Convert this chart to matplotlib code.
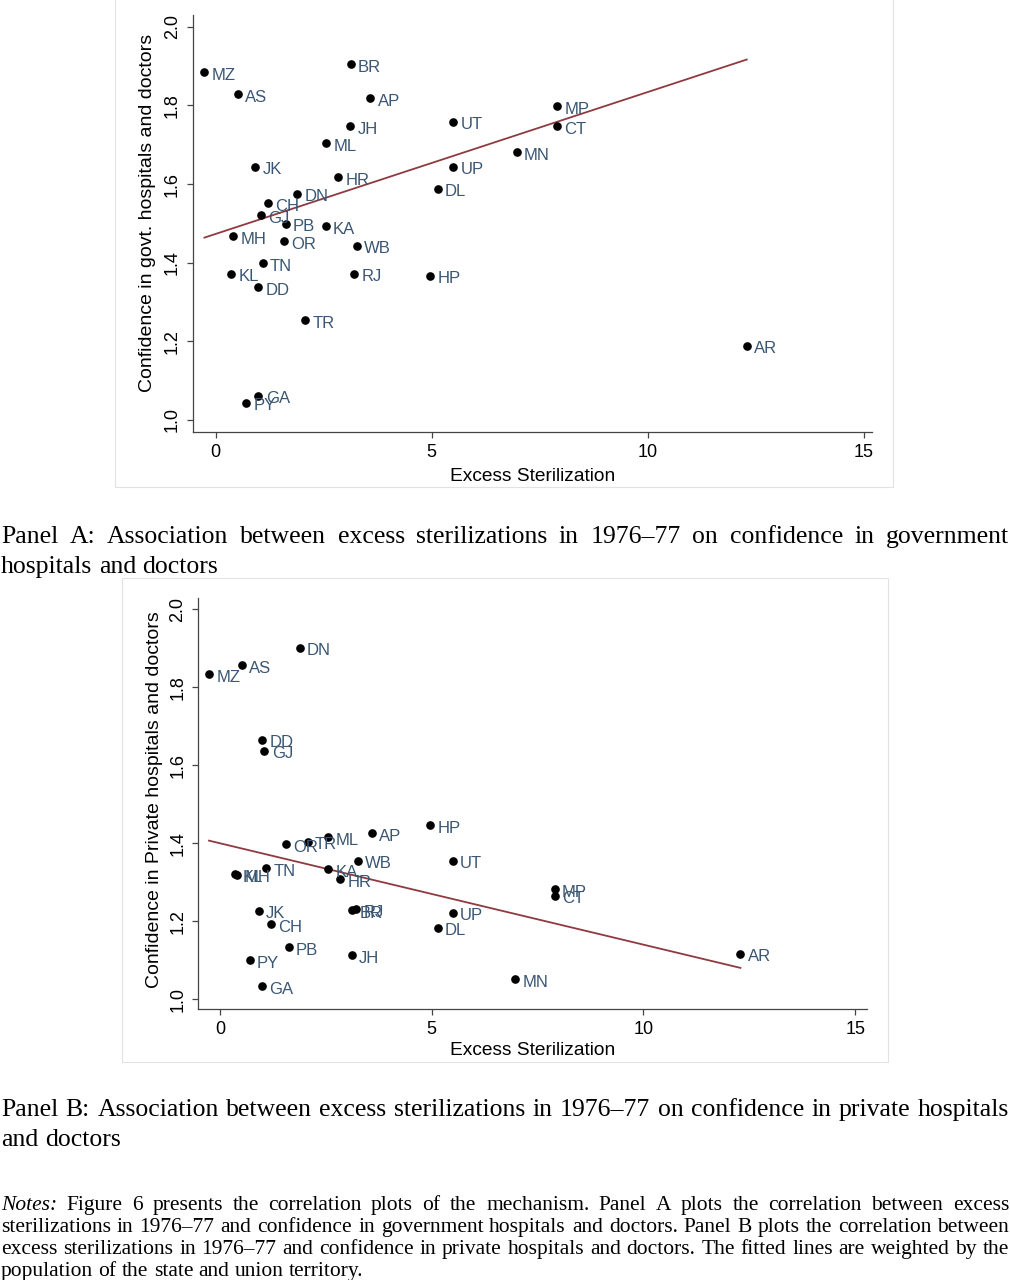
import matplotlib
matplotlib.use("Agg")
import matplotlib.pyplot as plt
from matplotlib.patches import Rectangle
import numpy as np

plt.rcParams["font.family"] = ["Liberation Sans", "DejaVu Sans"]

# state codes and excess sterilization (same x in both panels)
states = ["MZ", "AS", "BR", "AP", "JH", "UT", "MP", "CT", "ML", "MN", "JK",
          "HR", "UP", "DL", "DN", "CH", "GJ", "PB", "KA", "MH", "OR", "WB",
          "TN", "KL", "RJ", "HP", "DD", "TR", "AR", "GA", "PY"]
excess = [-0.26, 0.51, 3.12, 3.58, 3.11, 5.50, 7.90, 7.90, 2.56, 6.97, 0.92,
          2.84, 5.50, 5.14, 1.88, 1.21, 1.05, 1.62, 2.55, 0.40, 1.57, 3.26,
          1.09, 0.36, 3.21, 4.97, 0.99, 2.07, 12.29, 0.99, 0.70]

# panel A: confidence in govt. hospitals and doctors
conf_govt = [1.884, 1.828, 1.905, 1.818, 1.747, 1.758, 1.798, 1.747, 1.704,
             1.681, 1.644, 1.617, 1.644, 1.588, 1.575, 1.551, 1.520, 1.499,
             1.493, 1.467, 1.455, 1.443, 1.398, 1.372, 1.372, 1.367, 1.338,
             1.254, 1.188, 1.061, 1.044]

# panel B: confidence in private hospitals and doctors
conf_private = [1.834, 1.857, 1.229, 1.426, 1.113, 1.355, 1.282, 1.266, 1.415,
                1.052, 1.227, 1.308, 1.222, 1.184, 1.901, 1.192, 1.637, 1.134,
                1.334, 1.319, 1.397, 1.355, 1.336, 1.321, 1.231, 1.446, 1.665,
                1.404, 1.117, 1.034, 1.100]

# weighted fitted lines (intercept, slope)
fit_govt = (1.473, 0.0361)
fit_private = (1.400, -0.0260)

x_ticks = [0, 5, 10, 15]
y_ticks = [1.0, 1.2, 1.4, 1.6, 1.8, 2.0]

LABEL_COL = "#3a5673"
LINE_COL = "#8f3a40"

fig = plt.figure(figsize=(10.1, 12.8), dpi=100)
W, H = 1010, 1280


def px_rect(left, top, right, bottom):
    return [left / W, 1 - bottom / H, (right - left) / W, (bottom - top) / H]


def scatter_panel(rect, yvals, fit, ylabel, xlim, ylim, ylab_xy, xlab_y):
    ax = fig.add_axes(px_rect(*rect))
    ax.plot(excess, yvals, "o", color="black", markersize=5.2, zorder=3)
    for s, xv, yv in zip(states, excess, yvals):
        ax.annotate(s, (xv, yv), xytext=(5.2, -2.2), textcoords="offset points",
                    ha="left", va="center", fontsize=12, color=LABEL_COL)
    xs = np.array([min(excess), max(excess)])
    ax.plot(xs, fit[0] + fit[1] * xs, color=LINE_COL, lw=1.3, zorder=2)
    ax.set_xlim(*xlim)
    ax.set_ylim(*ylim)
    ax.set_xticks(x_ticks)
    ax.set_yticks(y_ticks)
    ax.set_yticklabels(["{:.1f}".format(v) for v in y_ticks], rotation=90, va="center")
    ax.spines["top"].set_visible(False)
    ax.spines["right"].set_visible(False)
    for sp in ["left", "bottom"]:
        ax.spines[sp].set_color("#444444")
        ax.spines[sp].set_linewidth(0.9)
    ax.tick_params(length=4.5, width=0.9, color="#444444", labelsize=13, pad=4)
    ax.set_xlabel("Excess Sterilization", fontsize=13.8)
    ax.set_ylabel(ylabel, fontsize=14)
    ax.xaxis.set_label_coords(0.5, xlab_y)
    ax.yaxis.set_label_coords(*ylab_xy)
    ax.xaxis.label.set_va("center")
    ax.yaxis.label.set_va("center")
    return ax


scatter_panel((192.5, 15, 872, 432), conf_govt, fit_govt,
              "Confidence in govt. hospitals and doctors",
              (-0.537, 15.19), (0.969, 2.03), (-0.066, 0.525), -0.107)
scatter_panel((198, 598, 867, 1009), conf_private, fit_private,
              "Confidence in Private hospitals and doctors",
              (-0.52, 15.28), (0.975, 2.029), (-0.065, 0.51), -0.10)

# faint graph-region frames
for l, t, r, b in [(115, -2, 893, 487), (122, 578, 888, 1062)]:
    fig.add_artist(Rectangle((l / W, 1 - b / H), (r - l) / W, (b - t) / H,
                             transform=fig.transFigure, fill=False,
                             edgecolor="#e2e2e2", lw=0.8))


# justified caption lines
def justify(line, y_px, size, last=False, italic_first=False):
    r = fig.canvas.get_renderer()
    words = line.split()
    texts = []
    for i, w in enumerate(words):
        st = "italic" if (italic_first and i == 0) else "normal"
        texts.append(fig.text(0, 1 - y_px / H, w, fontsize=size, style=st,
                              family=["Liberation Serif", "DejaVu Serif"],
                              va="baseline", ha="left"))
    widths = [t.get_window_extent(r).width for t in texts]
    if last:
        gap = size * 100 / 72 * 0.25
    else:
        gap = (W - 2 - sum(widths)) / (len(words) - 1)
    x = 1
    for t, w in zip(texts, widths):
        t.set_x(x / W)
        x += w + gap


cap_a = ["Panel A: Association between excess sterilizations in 1976–77 on confidence in government",
         "hospitals and doctors"]
cap_b = ["Panel B: Association between excess sterilizations in 1976–77 on confidence in private hospitals",
         "and doctors"]
notes = ["Notes: Figure 6 presents the correlation plots of the mechanism. Panel A plots the correlation between excess",
         "sterilizations in 1976–77 and confidence in government hospitals and doctors. Panel B plots the correlation between",
         "excess sterilizations in 1976–77 and confidence in private hospitals and doctors. The fitted lines are weighted by the",
         "population of the state and union territory."]

justify(cap_a[0], 543, 18.5)
justify(cap_a[1], 573, 18.5, last=True)
justify(cap_b[0], 1116, 18.5)
justify(cap_b[1], 1146, 18.5, last=True)
for i, ln in enumerate(notes):
    justify(ln, 1210 + 22 * i, 15.5, last=(i == len(notes) - 1), italic_first=(i == 0))

plt.savefig("out.png", dpi=100)
